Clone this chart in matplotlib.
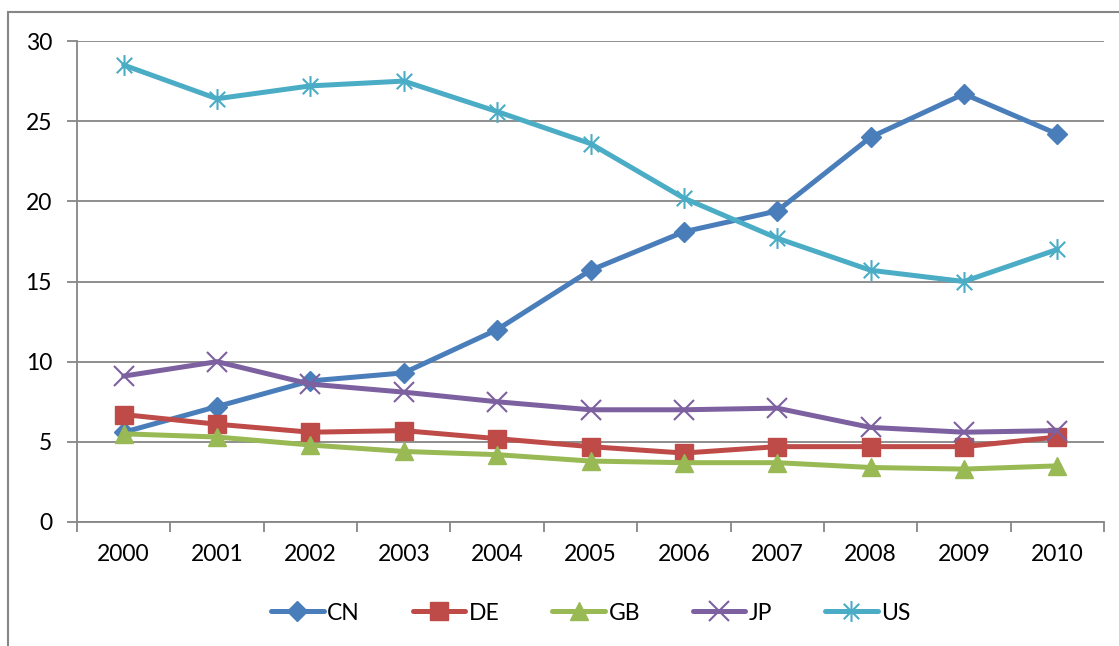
import numpy as np
import matplotlib
matplotlib.use("Agg")
import matplotlib.pyplot as plt
from matplotlib.path import Path
from matplotlib.patches import Rectangle

YEARS = ["2000", "2001", "2002", "2003", "2004", "2005", "2006", "2007", "2008", "2009", "2010"]
CN = [5.6, 7.2, 8.8, 9.3, 12.0, 15.7, 18.1, 19.4, 24.0, 26.7, 24.2]
DE = [6.7, 6.1, 5.6, 5.7, 5.2, 4.7, 4.3, 4.7, 4.7, 4.7, 5.3]
GB = [5.5, 5.3, 4.8, 4.4, 4.2, 3.8, 3.7, 3.7, 3.4, 3.3, 3.5]
JP = [9.1, 10.0, 8.6, 8.1, 7.5, 7.0, 7.0, 7.1, 5.9, 5.6, 5.7]
US = [28.5, 26.4, 27.2, 27.5, 25.6, 23.6, 20.2, 17.7, 15.7, 15.0, 17.0]

GRID = "#868686"
FS = 16.5
plt.rcParams["font.family"] = ["Lato", "DejaVu Sans"]

# Excel-style asterisk marker: an X plus a vertical stroke
star = Path(
    [(-1, -1), (1, 1), (-1, 1), (1, -1), (0, -1.35), (0, 1.35)],
    [Path.MOVETO, Path.LINETO, Path.MOVETO, Path.LINETO, Path.MOVETO, Path.LINETO],
)

series = [
    ("CN", CN, "#4A7EBB", "D", 10, 1),
    ("DE", DE, "#BE4B48", "s", 13, 1),
    ("GB", GB, "#98B954", "^", 13, 1),
    ("JP", JP, "#7D60A0", "x", 14, 1.5),
    ("US", US, "#4BACC6", star, 15, 1.5),
]

fig = plt.figure(figsize=(11.19, 6.46), dpi=100)
ax = fig.add_axes([77 / 1119, 1 - 522 / 646, (1104 - 77) / 1119, (522 - 41) / 646])

# outer chart frame (cropped at right and bottom)
fig.patches.append(Rectangle((8 / 1119, -0.1), 1.2, 1 - 12 / 646 + 0.1,
                             transform=fig.transFigure, fill=False,
                             edgecolor=GRID, linewidth=1.5))

x = np.arange(len(YEARS))
for name, vals, col, mk, ms, mew in series:
    ax.plot(x, vals, color=col, lw=3.6, marker=mk, markersize=ms,
            markerfacecolor=col, markeredgecolor=col, markeredgewidth=mew,
            label=name, solid_capstyle="round")

ax.set_xlim(-0.5, len(YEARS) - 0.5)
ax.set_ylim(0, 30)
ax.set_yticks(range(0, 31, 5))
ax.yaxis.grid(True, color=GRID, lw=1.3)
ax.set_axisbelow(True)

ax.set_xticks(np.arange(-0.5, len(YEARS), 1))
ax.set_xticklabels([])
ax.set_xticks(x, minor=True)
ax.set_xticklabels(YEARS, minor=True)
ax.tick_params(axis="x", which="major", length=7, width=1.3, color=GRID)
ax.tick_params(axis="x", which="minor", length=0, pad=16, labelsize=FS)
ax.tick_params(axis="y", length=7, width=1.3, color=GRID, pad=11, labelsize=FS)

for s in ("top", "right"):
    ax.spines[s].set_visible(False)
for s in ("left", "bottom"):
    ax.spines[s].set_color(GRID)
    ax.spines[s].set_linewidth(1.3)

fig.legend(loc="center", bbox_to_anchor=(0.528, 1 - 613 / 646), ncol=5,
           frameon=False, fontsize=FS, handlelength=2.3, handletextpad=0.15,
           columnspacing=2.3)

fig.savefig("out.png", dpi=100)
